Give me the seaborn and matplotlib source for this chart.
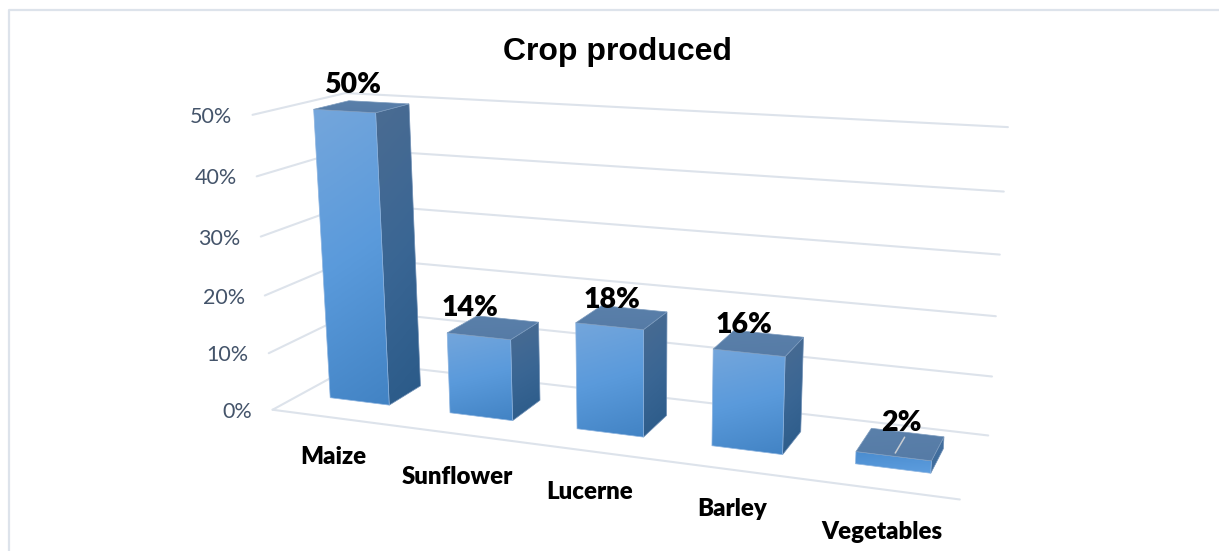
import numpy as np
import pandas as pd
import matplotlib
matplotlib.use("Agg")
import matplotlib.pyplot as plt
from matplotlib.patches import Polygon
import seaborn as sns

# Chart content
categories = ["Maize", "Sunflower", "Lucerne", "Barley", "Vegetables"]
shares = [50, 14, 18, 16, 2]
axis_ticks = [0, 10, 20, 30, 40, 50]
title = "Crop produced"

# Bar footprint inside each category slot / inside the floor depth
BAR_WIDTH = 0.5
DEPTH_FRONT, DEPTH_BACK = 0.31, 0.70

# Camera: where the corners of the floor and walls fall on the canvas,
# as (category position, depth, value) -> (pixel x, pixel y)
camera_world = [(0, 0, 0), (5, 0, 0), (0, 1, 0), (5, 1, 0), (0, 1, 50), (5, 1, 50), (0, 0, 50)]
camera_pixel = [(272, 410), (960, 499), (360, 362), (988, 436), (345, 93), (1008, 127), (253, 115)]


def fit_camera(world, pixel):
    rows = []
    for (x, y, z), (u, v) in zip(world, pixel):
        rows.append([x, y, z, 1, 0, 0, 0, 0, -u * x, -u * y, -u * z, -u])
        rows.append([0, 0, 0, 0, x, y, z, 1, -v * x, -v * y, -v * z, -v])
    return np.linalg.svd(np.array(rows, float))[2][-1].reshape(3, 4)


CAMERA = fit_camera(camera_world, camera_pixel)


def project(x, y, z):
    u, v, w = CAMERA @ np.array([x, y, z, 1.0])
    return u / w, v / w


sns.set_theme(style="white")
fig = plt.figure(figsize=(12.19, 5.51), dpi=100, facecolor="white")
ax = fig.add_axes([0, 0, 1, 1])

GRID = "#DDE3EB"
TICK_TEXT = "#44546A"

# Walls and floor outline
paths = []
for tick in axis_ticks:
    paths.append([(0, 0, tick), (0, 1, tick), (5, 1, tick)])
paths.append([(0, 0, 0), (5, 0, 0)])
records = []
for k, path in enumerate(paths):
    for n, corner in enumerate(path):
        u, v = project(*corner)
        records.append({"edge": k, "order": n, "u": u, "v": v})
grid_lines = pd.DataFrame(records)
sns.lineplot(data=grid_lines, x="u", y="v", units="edge", estimator=None, sort=False,
             color=GRID, lw=1.5, legend=False, ax=ax, zorder=1)

front_cmap = sns.blend_palette(["#74A6DC", "#5A9ADB", "#4283C4"], 64, as_cmap=True)
flat_cmap = sns.blend_palette(["#4A8CCF", "#5E9EDF"], 64, as_cmap=True)
side_cmap = sns.blend_palette(["#4B6C92", "#3A6694", "#2A5A88"], 64, as_cmap=True)
flat_side_cmap = sns.blend_palette(["#46709E", "#3C6B9C"], 64, as_cmap=True)
top_cmap = sns.blend_palette(["#5A80AA", "#567BA6"], 64, as_cmap=True)


def shaded_face(corners, cmap, zorder, edge):
    """Fill a projected quadrilateral with a slightly slanted top-to-bottom gradient."""
    pts = np.array([project(*c) for c in corners])
    u0, v0 = np.floor(pts.min(axis=0))
    u1, v1 = np.ceil(pts.max(axis=0))
    uu, vv = np.meshgrid(np.linspace(0, 1, 40), np.linspace(0, 1, 120))
    shade = np.clip(0.85 * vv + 0.15 * uu, 0, 1)
    outline = Polygon(pts, closed=True, transform=ax.transData, facecolor="none",
                      edgecolor=edge, lw=0.5, zorder=zorder + 0.5)
    ax.add_patch(outline)
    image = ax.imshow(shade, cmap=cmap, vmin=0, vmax=1, extent=(u0, u1, v1, v0),
                      aspect="auto", interpolation="bilinear", zorder=zorder)
    image.set_clip_path(outline)


for i, share in enumerate(shares):
    left, right = i + 0.5 - BAR_WIDTH / 2, i + 0.5 + BAR_WIDTH / 2
    base_z = 5 + i * 3
    low_bar = share < 5
    shaded_face([(right, DEPTH_FRONT, share), (right, DEPTH_BACK, share),
                 (right, DEPTH_BACK, 0), (right, DEPTH_FRONT, 0)],
                flat_side_cmap if low_bar else side_cmap, base_z, "#6F8FB5")
    shaded_face([(left, DEPTH_FRONT, share), (right, DEPTH_FRONT, share),
                 (right, DEPTH_FRONT, 0), (left, DEPTH_FRONT, 0)],
                flat_cmap if low_bar else front_cmap, base_z + 1, "#8DB4E0")
    shaded_face([(left, DEPTH_BACK, share), (right, DEPTH_BACK, share),
                 (right, DEPTH_FRONT, share), (left, DEPTH_FRONT, share)],
                top_cmap, base_z + 2, "#7C9BBE")

# Leader stub sitting on the smallest bar
stub_a = project(4.5, 0.62, shares[4])
stub_b = project(4.5, 0.36, shares[4])
ax.plot([stub_a[0], stub_b[0]], [stub_a[1], stub_b[1]], color="#C9CDD2", lw=1.1, zorder=30)

# Value labels, offset from the centre of each bar top
label_offsets = [(-9, -22), (-23, -20), (-10, -18), (-15, -18), (1, -21)]
for i, share in enumerate(shares):
    u, v = project(i + 0.5, 0.5, share)
    du, dv = label_offsets[i]
    ax.text(u + du, v + dv, f"{share}%", family="Lato", weight="heavy", fontsize=20.5,
            color="black", ha="center", va="center", zorder=40)

# Value axis labels, hung off the front end of each wall line
for tick in axis_ticks:
    u, v = project(0, 0, tick)
    ax.text(u - 20, v + 2, f"{tick}%", family="Lato", fontsize=15.5, color=TICK_TEXT,
            ha="right", va="center", zorder=40)

# Category labels along the front of the floor
category_anchor = [(333, 457), (457, 477), (590, 492), (732, 509), (882, 532)]
for name, (u, v) in zip(categories, category_anchor):
    ax.text(u, v, name, family="Lato", weight="heavy", fontsize=17.3, color="black",
            ha="center", va="center", zorder=40)

ax.text(617, 52, title, family="Liberation Sans", weight="bold", fontsize=23, color="black",
        ha="center", va="center", zorder=40)

# Chart frame: only its left and top edges fall on the canvas
ax.plot([9, 9, 1219], [551, 10, 10], color=GRID, lw=1.6, zorder=0.5)

ax.set_xlim(0, 1219)
ax.set_ylim(551, 0)
ax.set_axis_off()
fig.savefig("out.png", dpi=100, facecolor="white")
